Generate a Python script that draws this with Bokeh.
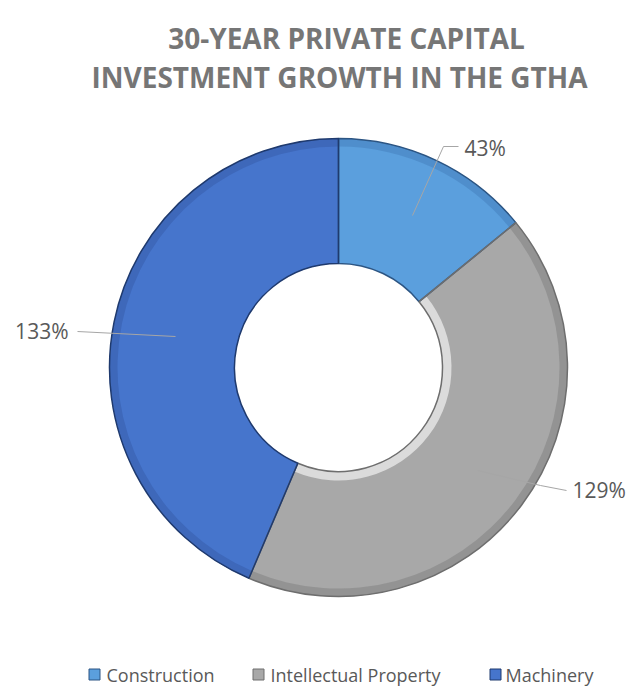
import numpy as np
from bokeh.plotting import figure
from bokeh.models import Range1d, ColumnDataSource
from bokeh.core.properties import value
from bokeh.embed import file_html
from bokeh.resources import INLINE

# ---- data ----
categories = ["Construction", "Intellectual Property", "Machinery"]
growth = [43, 129, 133]
value_labels = ["43%", "129%", "133%"]
title_lines = ["30-YEAR PRIVATE CAPITAL", "INVESTMENT GROWTH IN THE GTHA"]

# ---- styles ----
fill_colors = ["#5B9FDD", "#A8A8A8", "#4675CC"]
edge_colors = ["#2C5583", "#6E6E6E", "#1F3A6E"]
inner_light = ["#5B9FDD", "#E4E4E4", "#4675CC"]
inner_alpha = [0.0, 0.85, 0.0]
outer_dark = ["#4A88C4", "#8A8A8A", "#3A63B2"]

W, H = 633, 692
p = figure(width=W, height=H, x_range=Range1d(0, W), y_range=Range1d(0, H),
           output_backend="svg", toolbar_location=None, min_border=0)
p.axis.visible = False
p.grid.visible = False
p.outline_line_color = None
p.background_fill_color = "white"
p.border_fill_color = "white"


def Y(yi):
    return H - yi


cx, cy = 338, Y(367)
r_in, r_out = 104, 229

frac = np.array(growth, dtype=float) / sum(growth)
cum = np.concatenate([[0.0], np.cumsum(frac)])
start = np.pi / 2 - 2 * np.pi * cum[:-1]
end = np.pi / 2 - 2 * np.pi * cum[1:]

src = ColumnDataSource(dict(cat=categories, val=growth, start=start, end=end,
                            fill=fill_colors, edge=edge_colors,
                            light=inner_light, la=inner_alpha, dark=outer_dark))

# main ring
p.annular_wedge(x=cx, y=cy, inner_radius=r_in, outer_radius=r_out,
                start_angle="start", end_angle="end", direction="clock",
                fill_color="fill", line_color=None, source=src)
# bevel: inner highlight and outer shade
p.annular_wedge(x=cx, y=cy, inner_radius=r_in, outer_radius=r_in + 9,
                start_angle="start", end_angle="end", direction="clock",
                fill_color="light", fill_alpha="la", line_color=None, source=src)
p.annular_wedge(x=cx, y=cy, inner_radius=r_out - 8, outer_radius=r_out,
                start_angle="start", end_angle="end", direction="clock",
                fill_color="dark", fill_alpha=0.7, line_color=None, source=src)
# outlines
p.annular_wedge(x=cx, y=cy, inner_radius=r_in, outer_radius=r_out,
                start_angle="start", end_angle="end", direction="clock",
                fill_color=None, line_color="edge", line_width=1.5, source=src)

# leader lines
leader_color = "#A6A6A6"
p.line([412, 443, 458], [Y(215), Y(146), Y(146)], line_color=leader_color, line_width=1)
p.line([477, 540, 566], [Y(470), Y(485), Y(490)], line_color=leader_color, line_width=1)
p.line([175, 77], [Y(336), Y(331)], line_color=leader_color, line_width=1)

# value labels
lab_x = [464, 572, 68]
lab_y = [Y(147), Y(489), Y(330)]
lab_align = ["left", "left", "right"]
p.text(x=lab_x, y=lab_y, text=value_labels, text_align=lab_align,
       text_baseline="middle", text_font=value("Open Sans"),
       text_font_size="21px", text_color="#595959")

# title
p.text(x=[346, 339], y=[Y(37), Y(76)], text=title_lines, text_align="center",
       text_baseline="alphabetic", text_font=value("Open Sans"),
       text_font_style="bold", text_font_size="28px", text_color="#767676")

# legend
leg_y = Y(674)
mk_x = [94, 258, 495]
tx_x = [106, 270, 505]
p.scatter(x=mk_x, y=[leg_y] * 3, marker="square", size=11,
          fill_color=fill_colors, line_color=edge_colors, line_width=1)
p.text(x=tx_x, y=[leg_y] * 3, text=categories, text_align="left",
       text_baseline="middle", text_font=value("Open Sans"),
       text_font_size="18px", text_color="#595959")

open("out.html", "w").write(file_html(p, INLINE))
